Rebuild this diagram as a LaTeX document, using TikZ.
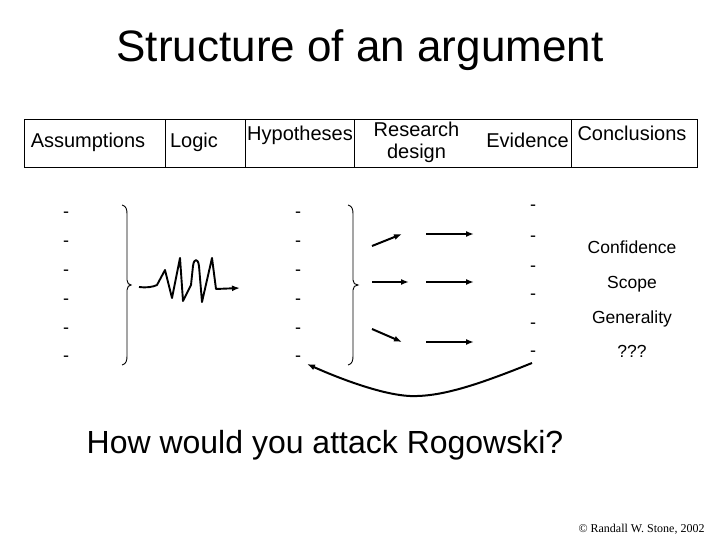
\documentclass[tikz,border=0pt]{standalone}
\usepackage{fontspec}
\setmainfont{Liberation Sans}
\newfontfamily\seriffont{Liberation Serif}
\usetikzlibrary{arrows.meta}
\begin{document}
\begin{tikzpicture}[x=1pt,y=-1pt,
  hdr/.style={font=\fontsize{20}{22}\selectfont, inner sep=0pt, anchor=base},
  dashmark/.style={font=\fontsize{18}{20}\selectfont, inner sep=0pt, anchor=base},
  lbl/.style={font=\fontsize{17.5}{20}\selectfont, inner sep=0pt, anchor=base},
  arr/.style={line width=2pt, -{Latex[length=8pt,width=6pt]}},
  bracepath/.style={line width=0.9pt},
  tbl/.style={line width=1pt}
]
\useasboundingbox (0,0) rectangle (720,540);
\fill[white] (0,0) rectangle (720,540);

% title
\node[font=\fontsize{44}{50}\selectfont, inner sep=0pt, anchor=base] (title) at (360,62) {Structure of an argument};

% table
\draw[tbl] (24,120) rectangle (697,168);
\foreach \xx in {165,245,354,571} \draw[tbl] (\xx,120) -- (\xx,168);
\node[hdr] (assump) at (88,148) {Assumptions};
\node[hdr] (logic) at (194,148) {Logic};
\node[hdr] (hyp) at (300,141) {Hypotheses};
\node[font=\fontsize{20}{22}\selectfont, inner sep=0pt, anchor=north, align=center] (design) at (416.5,122) {Research\\design};
\node[hdr] (evid) at (527.5,148) {Evidence};
\node[hdr] (concl) at (632,141) {Conclusions};

% dashes
\foreach \yy [count=\i] in {213,242,270,299,328,356} {
  \node[dashmark] (da\i) at (66,\yy+5) {-};
  \node[dashmark] (db\i) at (298,\yy+5) {-};
}
\foreach \yy [count=\i] in {206,236,266,294,323,351} {
  \node[dashmark] (dc\i) at (533,\yy+5) {-};
}

% braces
\draw[bracepath] (122,205) .. controls (126,206) and (127,209) .. (127,214) -- (127,280)
  .. controls (127,283) and (129,285) .. (131,285) .. controls (129,285) and (127,287) .. (127,290)
  -- (127,356) .. controls (127,361) and (126,364) .. (122,365);
\draw[bracepath] (348,205) .. controls (352,206) and (353,209) .. (353,214) -- (353,280)
  .. controls (353,283) and (355,285) .. (358,285) .. controls (355,285) and (353,287) .. (353,290)
  -- (353,356) .. controls (353,361) and (352,364) .. (348,365);

% zigzag logic
\coordinate (zs) at (139,287);
\coordinate (ze) at (240,288);
\draw[arr, line width=1.9pt, line join=round] (zs) .. controls (146,288) and (153,287) .. (157,285)
  -- (165,270)
  -- (172,298) -- (180,258) -- (183,301) -- (191,285) -- (193,266)
  .. controls (194,258) and (198,258) .. (199,266) -- (202,302) -- (212,258) -- (216,289) -- (ze);

% research design arrows
\coordinate (a1s) at (372,246); \coordinate (a1e) at (402,234);
\coordinate (a2s) at (426,234); \coordinate (a2e) at (474,234);
\coordinate (a3s) at (372,282); \coordinate (a3e) at (409,282);
\coordinate (a4s) at (426,282); \coordinate (a4e) at (474,282);
\coordinate (a5s) at (372,329); \coordinate (a5e) at (402,342);
\coordinate (a6s) at (426,342); \coordinate (a6e) at (474,342);
\draw[arr] (a1s) -- (a1e);
\draw[arr] (a2s) -- (a2e);
\draw[arr] (a3s) -- (a3e);
\draw[arr] (a4s) -- (a4e);
\draw[arr] (a5s) -- (a5e);
\draw[arr] (a6s) -- (a6e);

% feedback arrow
\coordinate (fbs) at (532,363);
\coordinate (fbe) at (307,364);
\draw[arr] (fbs) .. controls (475,386) and (440,397) .. (410,396)
  .. controls (385,395) and (345,381) .. (fbe);

% right labels
\node[lbl] (conf) at (632,254) {Confidence};
\node[lbl] (scope) at (632,288) {Scope};
\node[lbl] (gen) at (632,323) {Generality};
\node[lbl] (qqq) at (632,357) {???};

% question
\node[font=\fontsize{32}{36}\selectfont, inner sep=0pt, anchor=base] (question) at (325,453) {How would you attack Rogowski?};

% copyright
\node[font=\seriffont\fontsize{12}{14}\selectfont, inner sep=0pt, anchor=base] (copy) at (641.5,532) {© Randall W. Stone, 2002};
\end{tikzpicture}
\end{document}
